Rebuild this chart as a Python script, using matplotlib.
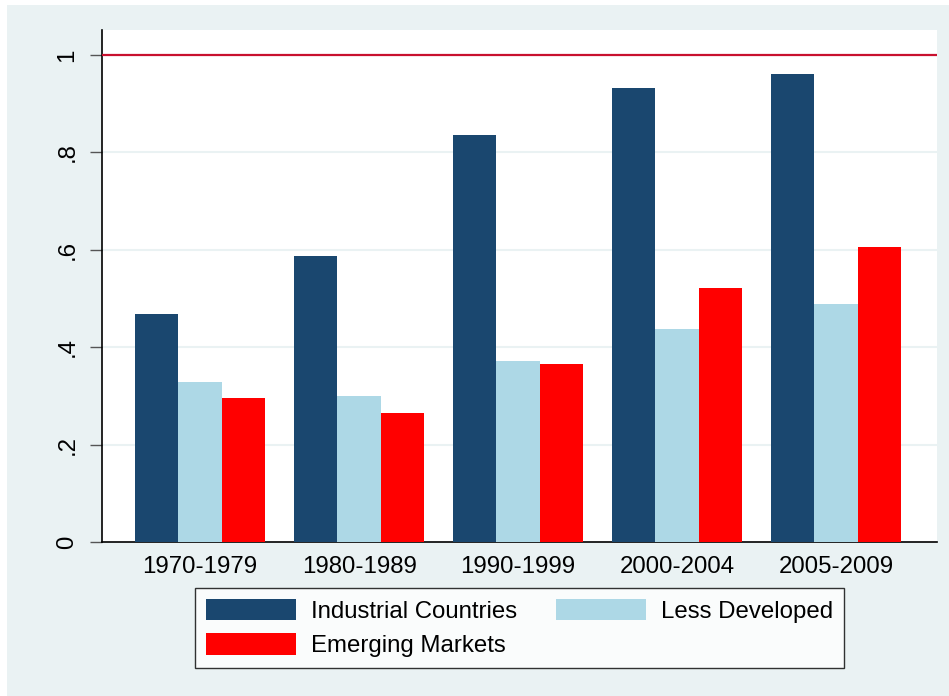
import matplotlib.pyplot as plt
from matplotlib.patches import Rectangle
import numpy as np

plt.rcParams['font.family'] = ['Liberation Sans', 'DejaVu Sans']

# data
periods = ['1970-1979', '1980-1989', '1990-1999', '2000-2004', '2005-2009']
industrial = [0.468, 0.587, 0.836, 0.932, 0.961]
less_developed = [0.329, 0.300, 0.372, 0.437, 0.489]
emerging = [0.296, 0.265, 0.365, 0.522, 0.606]
series_names = ['Industrial Countries', 'Less Developed', 'Emerging Markets']
y_ticks = [0, 0.2, 0.4, 0.6, 0.8, 1.0]
y_labels = ['0', '.2', '.4', '.6', '.8', '1']

bg = '#EAF2F3'
colors = ['#1A476F', '#ADD8E6', '#FF0000']

fig = plt.figure(figsize=(9.49, 6.96), dpi=100)
fig.patch.set_facecolor('white')
# light backdrop (the reference has a thin white margin top and left)
fig.patches.append(Rectangle((7 / 949, 0), 1 - 7 / 949, 1 - 5 / 696,
                             transform=fig.transFigure, facecolor=bg,
                             edgecolor='none', zorder=-10))

ax = fig.add_axes([102 / 949, 1 - 542 / 696, 835 / 949, 512 / 696])
ax.set_facecolor('white')

x = np.arange(len(periods))
w = 0.274
bars = []
for k, (vals, c, name) in enumerate(zip([industrial, less_developed, emerging], colors, series_names)):
    b = ax.bar(x + (k - 1) * w, vals, width=w, color=c, label=name, zorder=3)
    bars.append(b)

# grid and reference line
for t in y_ticks[1:-1]:
    ax.axhline(t, color=bg, lw=1.5, zorder=1)
ax.axhline(1.0, color='#C8102E', lw=1.6, zorder=4)

ax.set_xlim(-0.617, 4.635)
ax.set_ylim(0, 1.051)
ax.set_xticks(x)
ax.set_xticklabels(periods, fontsize=17.3)
ax.tick_params(axis='x', length=0, pad=10)
ax.set_yticks(y_ticks)
ax.set_yticklabels(y_labels, fontsize=17.3, rotation=90, va='center')
ax.tick_params(axis='y', length=9, width=1, color='#555555', pad=8)

for s in ['top', 'right']:
    ax.spines[s].set_visible(False)
for s in ['left', 'bottom']:
    ax.spines[s].set_color('black')
    ax.spines[s].set_linewidth(1.2)

# legend filled row-wise like Stata: order handles for column-major layout
order = [0, 2, 1]
leg = fig.legend([bars[i] for i in order], [series_names[i] for i in order],
                 loc='center', bbox_to_anchor=(519.5 / 949, 1 - 628 / 696),
                 ncol=2, fontsize=17.3, frameon=True, fancybox=False,
                 handlelength=3.75, handleheight=1.0, handletextpad=0.63,
                 columnspacing=1.6, labelspacing=0.42, borderpad=0.45)
leg.get_frame().set_edgecolor('black')
leg.get_frame().set_linewidth(1.0)
leg.get_frame().set_facecolor('white')

fig.savefig('out.png', dpi=100, facecolor=fig.get_facecolor())
